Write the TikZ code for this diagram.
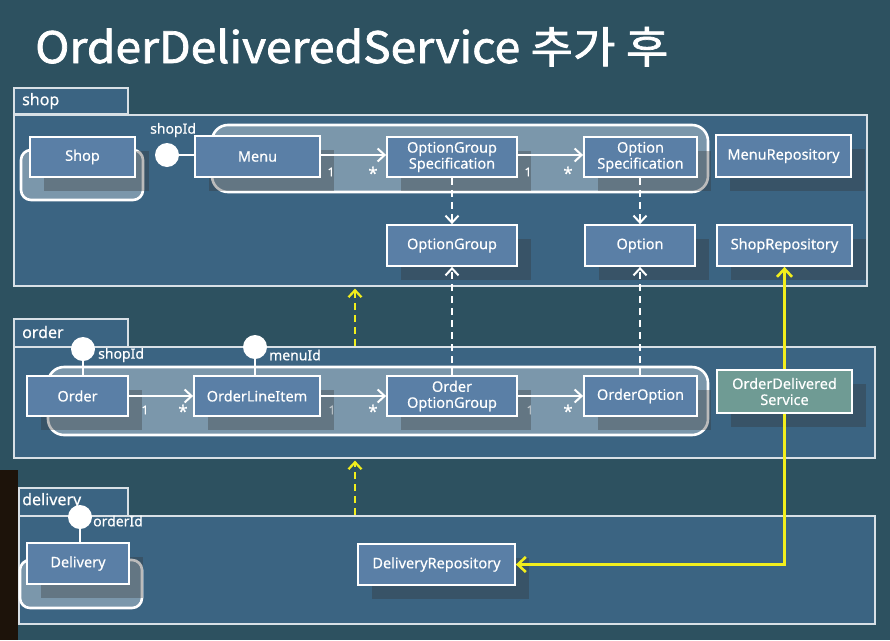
\documentclass[tikz,border=0pt]{standalone}
\usepackage{fontspec}
\setmainfont{Noto Sans}
\newfontfamily\boxfont[FakeBold=0.4]{Noto Sans}
\newfontfamily\krtitle[FakeBold=1.6]{Noto Sans CJK KR}
\usetikzlibrary{arrows.meta,shadows}
\definecolor{bgc}{HTML}{2D5160}
\definecolor{pkgc}{HTML}{3B6482}
\definecolor{boxc}{HTML}{5A7FA6}
\definecolor{odsc}{HTML}{6F9B94}
\definecolor{yel}{HTML}{F2EE1C}
\begin{document}
\begin{tikzpicture}[x=1pt,y=-1pt,
  pkgbody/.style={draw=white!80!pkgc, line width=1.6pt, fill=pkgc, anchor=north west, inner sep=0pt},
  pkgtab/.style={draw=white!80!pkgc, line width=1.6pt, fill=pkgc, anchor=north west, inner sep=0pt},
  pkglabel/.style={text=white, font=\boxfont\fontsize{16}{18}\selectfont, anchor=west, inner sep=0pt},
  aggr/.style={draw=white, line width=2.6pt, fill=white, fill opacity=0.33, draw opacity=1, rounded corners=16pt},
  cls/.style={draw=white, line width=1.8pt, fill=boxc, text=white, align=center,
    font=\boxfont\fontsize{14.5}{16}\selectfont, inner sep=1pt,
    drop shadow={shadow xshift=14pt, shadow yshift=-14pt, fill=black!80, opacity=0.33}},
  lolli/.style={circle, fill=white, minimum size=24pt, inner sep=0pt},
  lbl/.style={text=white, font=\boxfont\fontsize{14}{16}\selectfont, inner sep=0pt, anchor=west},
  mult/.style={text=white!85, font=\boxfont\fontsize{12}{14}\selectfont, inner sep=0pt},
  star/.style={text=white!85, font=\boxfont\fontsize{17}{18}\selectfont, inner sep=0pt},
  assoc/.style={draw=white, line width=2pt, -{Straight Barb[length=7pt,width=13pt,line width=2pt]}},
  dep/.style={draw=white, line width=2pt, dash pattern=on 7pt off 5pt, -{Straight Barb[length=7pt,width=13pt,line width=2pt]}},
  ydep/.style={draw=yel, line width=2.2pt, dash pattern=on 7pt off 5pt, -{Straight Barb[length=7pt,width=13pt,line width=2.2pt]}},
  yline/.style={draw=yel, line width=2.6pt, -{Straight Barb[length=8pt,width=15pt,line width=2.6pt]}},
  stem/.style={draw=white, line width=1.8pt}
]
\useasboundingbox (0,0) rectangle (890,640);
\fill[bgc] (0,0) rectangle (890,640);
\fill[black!85!brown] (0,470) rectangle (18,640);

% title
\node[anchor=base west, inner sep=0pt, text=white] (title) at (35,63)
  {\resizebox{633pt}{36pt}{\krtitle OrderDeliveredService 추가 후}};

% ---------- packages ----------
\node[pkgbody, minimum width=853pt, minimum height=171pt] (shopBody) at (13,114) {};
\node[pkgtab, minimum width=114pt, minimum height=26pt] (shopTab) at (13,87) {};
\node[pkglabel] (shopLbl) at (22,101) {shop};

\node[pkgbody, minimum width=861pt, minimum height=111pt] (orderBody) at (13,346) {};
\node[pkgtab, minimum width=114pt, minimum height=28pt] (orderTab) at (13,318) {};
\node[pkglabel] (orderLbl) at (22,332) {order};

\node[pkgbody, minimum width=856pt, minimum height=108pt] (delBody) at (18,515) {};
\node[pkgtab, minimum width=109pt, minimum height=28pt] (delTab) at (18,487) {};
\node[pkglabel] (delLbl) at (22,501) {delivery};

% ---------- aggregate outlines ----------
\draw[aggr, rounded corners=10pt] (21,150) rectangle (143,200);
\draw[aggr] (212,125) rectangle (708,192);
\draw[aggr] (48,367) rectangle (708,435);
\draw[aggr, rounded corners=10pt] (20,560) rectangle (142,608);

% ---------- classes: shop ----------
\node[cls, minimum width=105pt, minimum height=40pt] (shop) at (82.5,157) {Shop};
\node[cls, minimum width=125pt, minimum height=41pt] (menu) at (257.5,156.5) {Menu};
\node[cls, minimum width=130pt, minimum height=40pt] (ogs) at (452,157) {OptionGroup\\Specification};
\node[cls, minimum width=113pt, minimum height=40pt] (os) at (640.5,157) {Option\\Specification};
\node[cls, minimum width=135pt, minimum height=42pt] (menuRepo) at (783.5,156) {MenuRepository};
\node[cls, minimum width=130pt, minimum height=41pt] (og) at (452,245.5) {OptionGroup};
\node[cls, minimum width=110pt, minimum height=41pt] (opt) at (640,245.5) {Option};
\node[cls, minimum width=135pt, minimum height=41pt] (shopRepo) at (784.5,245.5) {ShopRepository};

% ---------- classes: order ----------
\node[cls, minimum width=101pt, minimum height=40pt] (order) at (77.5,396) {Order};
\node[cls, minimum width=126pt, minimum height=40pt] (oli) at (257,396) {OrderLineItem};
\node[cls, minimum width=130pt, minimum height=40pt] (oog) at (452,396) {Order\\OptionGroup};
\node[cls, minimum width=113pt, minimum height=40pt] (oo) at (640.5,396) {OrderOption};
\node[cls, fill=odsc, minimum width=135pt, minimum height=43pt] (ods) at (784.5,391.5) {OrderDelivered\\Service};

% ---------- classes: delivery ----------
\node[cls, minimum width=102pt, minimum height=41pt] (delivery) at (78,563.5) {Delivery};
\node[cls, minimum width=157pt, minimum height=41pt] (delRepo) at (436.5,564.5) {DeliveryRepository};

% ---------- lollipops ----------
\node[lolli] (lShop) at (167,155) {};
\draw[stem] (lShop.east) -- (lShop.east -| menu.west);
\node[lbl] (lShopT) at (150,130) {shopId};

\node[lolli] (lOShop) at (83,349) {};
\draw[stem] (lOShop.south) -- (lOShop.south |- order.north);
\node[lbl] (lOShopT) at (98,355) {shopId};

\node[lolli] (lOMenu) at (255,347) {};
\draw[stem] (lOMenu.south) -- (lOMenu.south |- oli.north);
\node[lbl] (lOMenuT) at (269,355) {menuId};

\node[lolli] (lDOrder) at (80,517) {};
\draw[stem] (lDOrder.south) -- (lDOrder.south |- delivery.north);
\node[lbl] (lDOrderT) at (93,521) {orderId};

% ---------- associations ----------
\draw[assoc] (menu.east |- 0,155) -- (ogs.west |- 0,155);
\node[mult] (m1a) at (331,172) {1};
\node[star] (m1b) at (373,173) {*};
\draw[assoc] (ogs.east |- 0,155) -- (os.west |- 0,155);
\node[mult] (m2a) at (528,172) {1};
\node[star] (m2b) at (568,173) {*};

\draw[assoc] (order.east |- 0,396) -- (oli.west |- 0,396);
\node[mult] (m3a) at (145,410) {1};
\node[star] (m3b) at (183,411) {*};
\draw[assoc] (oli.east |- 0,396) -- (oog.west |- 0,396);
\node[mult, opacity=0.5] (m4a) at (332,410) {1};
\node[star] (m4b) at (373,411) {*};
\draw[assoc] (oog.east |- 0,396) -- (oo.west |- 0,396);
\node[mult, opacity=0.5] (m5a) at (530,410) {1};
\node[star] (m5b) at (568,411) {*};

% ---------- dependencies ----------
\draw[dep] (ogs.south) -- (og.north);
\draw[dep] (os.south -| opt.north) -- (opt.north);
\draw[dep] (oog.north) -- (og.south);
\draw[dep] (oo.north -| opt.south) -- (opt.south);

\coordinate (yx) at (355,0);
\draw[ydep] (orderBody.north -| yx) -- ([yshift=-2pt]shopBody.south -| yx);
\draw[ydep] (delBody.north -| yx) -- ([yshift=-2pt]orderBody.south -| yx);

\draw[yline] (ods.north) -- (shopRepo.south);
\draw[yline] (ods.south) -- (ods.south |- delRepo.east) -- (delRepo.east);
\end{tikzpicture}
\end{document}
